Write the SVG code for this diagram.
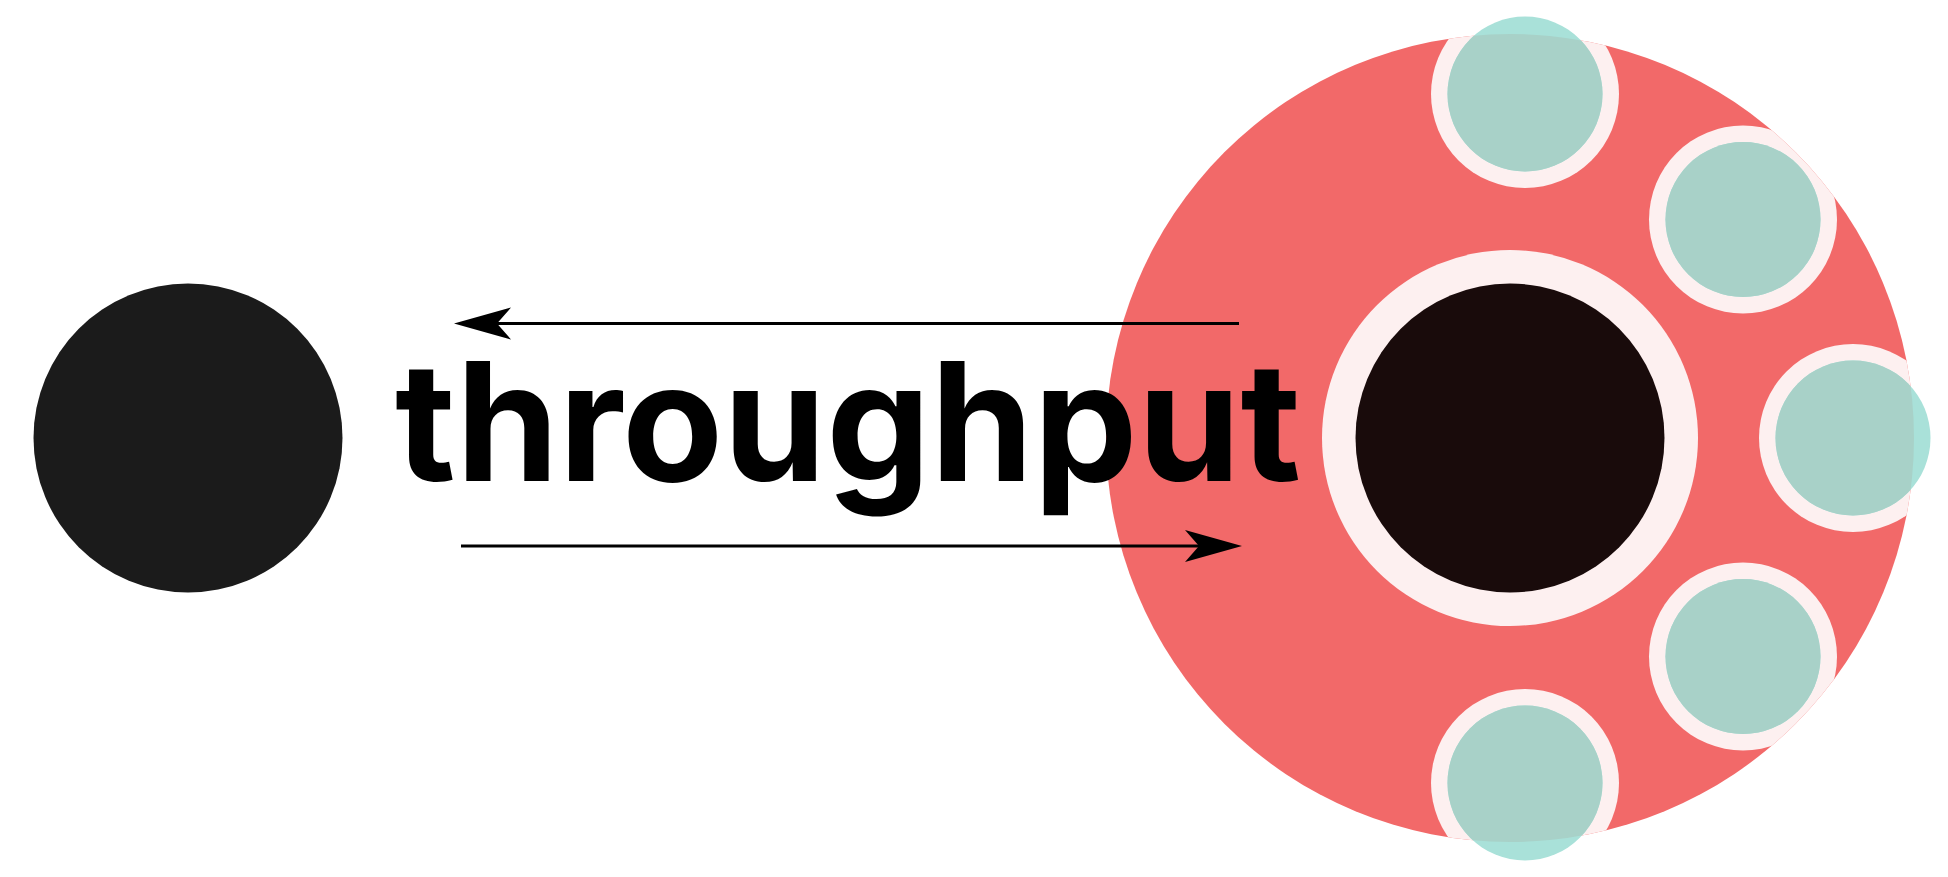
<svg xmlns="http://www.w3.org/2000/svg" width="1948" height="877" viewBox="0 0 1948 877">
<style>
.ring{fill:#fdf0f0}
.tealOut{fill:#a9e1d9}
.tealIn{fill:#a8d1c8}
.conn{stroke:#000;stroke-width:3;fill:none}
.label{font-family:Inter,"Liberation Sans",sans-serif;font-weight:700;font-size:165px;fill:#000}
</style>
<defs>
<clipPath id="bigClip"><circle cx="1510" cy="438" r="404"/></clipPath>
<marker id="head" markerUnits="userSpaceOnUse" viewBox="-15 -17 60 34" markerWidth="60" markerHeight="34" refX="0" refY="0" orient="auto">
<path d="M43,0 L-14,-16 L0,0 L-14,16 Z" fill="#000"/>
</marker>
</defs>
<rect width="1948" height="877" fill="#fff"/>
<g id="client">
<circle cx="188" cy="438" r="154.5" fill="#1b1b1b"/>
</g>
<g id="server">
<circle cx="1510" cy="438" r="404" fill="#f26969"/>
<g clip-path="url(#bigClip)">
<circle class="ring" cx="1510" cy="438" r="188"/>
<circle class="ring" cx="1525" cy="94" r="94"/>
<circle class="ring" cx="1743" cy="219.5" r="94"/>
<circle class="ring" cx="1853" cy="438" r="94"/>
<circle class="ring" cx="1743" cy="656.5" r="94"/>
<circle class="ring" cx="1525" cy="783" r="94"/>
</g>
<g id="workers">
<circle class="tealOut" cx="1525" cy="94" r="77.5"/>
<circle class="tealOut" cx="1743" cy="219.5" r="77.5"/>
<circle class="tealOut" cx="1853" cy="438" r="77.5"/>
<circle class="tealOut" cx="1743" cy="656.5" r="77.5"/>
<circle class="tealOut" cx="1525" cy="783" r="77.5"/>
<g clip-path="url(#bigClip)">
<circle class="tealIn" cx="1525" cy="94" r="77.5"/>
<circle class="tealIn" cx="1743" cy="219.5" r="77.5"/>
<circle class="tealIn" cx="1853" cy="438" r="77.5"/>
<circle class="tealIn" cx="1743" cy="656.5" r="77.5"/>
<circle class="tealIn" cx="1525" cy="783" r="77.5"/>
</g>
</g>
<circle cx="1510" cy="438" r="154.5" fill="#190b0b"/>
</g>
<g id="connectors">
<line class="conn" x1="1239" y1="323.5" x2="497" y2="323.5" marker-end="url(#head)"/>
<line class="conn" x1="461" y1="546" x2="1199" y2="546" marker-end="url(#head)"/>
</g>
<g id="label">
<text class="label" x="395" y="481" textLength="906" lengthAdjust="spacingAndGlyphs">throughput</text>
</g>
</svg>
